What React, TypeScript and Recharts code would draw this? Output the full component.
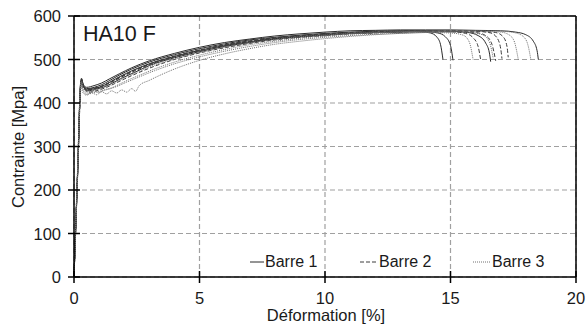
import React from 'react';
import { LineChart, Line, XAxis, YAxis, CartesianGrid, ReferenceLine } from 'recharts';

// strain [%], stress [MPa] pairs
const barre1A = [[0,0],[0.15,250],[0.26,445],[0.3,455],[0.36,440],[0.5,430],[0.8,433],[1.1,438],[1.4,447],[1.8,460],[2.3,474],[3,490],[4,507],[5,521],[6,532],[7,541],[8,548],[9,553],[10,557],[11,560],[12,562],[13,564],[13.8,564],[14.2,561],[14.45,552],[14.6,535],[14.7,500]];
const barre1B = [[0,0],[0.15,245],[0.27,440],[0.31,452],[0.38,437],[0.55,428],[0.9,432],[1.2,437],[1.5,445],[1.9,457],[2.4,470],[3,486],[4,504],[5,518],[6,530],[7,539],[8,547],[9,552],[10,556],[11,560],[12,562],[13,563],[14,564],[14.5,561],[14.8,552],[15.0,532],[15.1,498]];
const barre1C = [[0,0],[0.16,260],[0.26,442],[0.29,450],[0.34,441],[0.5,433],[0.8,436],[1.1,442],[1.4,451],[1.8,464],[2.3,478],[3,494],[4,511],[5,525],[6,536],[7,545],[8,551],[9,556],[10,560],[11,563],[12,565],[13,566],[14,566],[15,565],[15.7,562],[16.1,555],[16.4,538],[16.55,515],[16.6,495]];
const barre1D = [[0,0],[0.15,255],[0.27,447],[0.3,457],[0.36,444],[0.5,436],[0.8,440],[1.1,446],[1.4,455],[1.8,467],[2.3,481],[3,497],[4,514],[5,528],[6,539],[7,547],[8,554],[9,559],[10,563],[11,566],[12,567],[13,568],[14,568],[15,568],[16,567],[17,566],[17.6,563],[18,557],[18.3,542],[18.45,520],[18.5,500]];

const barre2A = [[0,0],[0.15,248],[0.27,443],[0.31,453],[0.37,438],[0.55,430],[0.9,434],[1.2,440],[1.5,448],[1.9,460],[2.4,473],[3,488],[4,506],[5,520],[6,532],[7,541],[8,548],[9,553],[10,557],[11,560],[12,562],[13,564],[14,565],[15,564],[15.6,560],[15.9,550],[16.1,530],[16.2,500]];
const barre2B = [[0,0],[0.14,240],[0.26,438],[0.3,450],[0.36,436],[0.6,425],[1.0,430],[1.3,436],[1.6,444],[2.0,455],[2.5,468],[3,480],[4,500],[5,515],[6,527],[7,537],[8,545],[9,551],[10,555],[11,559],[12,561],[13,563],[14,564],[15,564],[16,562],[16.4,555],[16.65,535],[16.8,497]];
const barre2C = [[0,0],[0.15,250],[0.27,444],[0.3,452],[0.35,440],[0.5,431],[0.8,434],[1.1,439],[1.4,447],[1.8,459],[2.3,473],[3,489],[4,507],[5,521],[6,533],[7,542],[8,549],[9,554],[10,558],[11,561],[12,563],[13,565],[14,566],[15,566],[16,565],[16.6,561],[16.85,550],[17.0,525],[17.05,502]];
const barre2D = [[0,0],[0.15,252],[0.28,446],[0.31,454],[0.37,441],[0.55,432],[0.9,435],[1.2,441],[1.5,449],[1.9,461],[2.4,475],[3,490],[4,508],[5,522],[6,534],[7,543],[8,550],[9,555],[10,559],[11,562],[12,564],[13,565],[14,566],[15,566],[16,565],[16.8,562],[17.1,552],[17.25,530],[17.3,505]];

const barre3A = [[0,0],[0.14,238],[0.25,432],[0.29,445],[0.35,430],[0.5,420],[0.8,424],[1.1,428],[1.4,432],[1.7,438],[2.1,448],[2.6,460],[3.2,474],[4,490],[5,506],[6,519],[7,530],[8,539],[9,546],[10,551],[11,555],[12,558],[13,560],[14,562],[15,561],[15.5,556],[15.75,540],[15.9,500]];
const barre3B = [[0,0],[0.14,235],[0.25,428],[0.28,440],[0.34,425],[0.5,418],[0.7,424],[0.9,419],[1.1,426],[1.3,421],[1.5,428],[1.7,423],[1.9,430],[2.1,425],[2.3,433],[2.45,427],[2.6,440],[3,452],[4,478],[5,498],[6,513],[7,525],[8,535],[9,542],[10,548],[11,553],[12,557],[13,560],[14,562],[15,563],[15.8,562],[16.3,556],[16.55,540],[16.7,503]];
const barre3C = [[0,0],[0.14,240],[0.26,436],[0.3,448],[0.36,432],[0.55,423],[0.8,428],[1.0,424],[1.2,430],[1.5,435],[1.8,443],[2.2,454],[2.7,466],[3.2,478],[4,494],[5,510],[6,523],[7,534],[8,542],[9,549],[10,554],[11,558],[12,561],[13,563],[14,565],[15,565],[16,565],[17,563],[17.35,556],[17.55,540],[17.7,500]];
const barre3D = [[0,0],[0.15,245],[0.26,440],[0.3,450],[0.36,436],[0.55,427],[0.9,431],[1.2,436],[1.5,443],[1.9,455],[2.4,468],[3,483],[4,501],[5,516],[6,528],[7,538],[8,546],[9,552],[10,556],[11,560],[12,562],[13,564],[14,565],[15,566],[16,566],[17,565],[17.6,561],[17.95,550],[18.1,530],[18.2,500]];

const xTicks = [0, 5, 10, 15, 20];
const yTicks = [0, 100, 200, 300, 400, 500, 600];

const FONT = '"Liberation Sans", Arial, sans-serif';
const TEXT = '#1a1a1a';
const AXIS_Y = 277;

const styles = {
  solid: { stroke: '#2b2b2b', dash: undefined as string | undefined },
  dashed: { stroke: '#3c3c3c', dash: '4 2' },
  dotted: { stroke: '#707070', dash: '1 1' },
};

const series = [
  { name: 'b1a', pts: barre1A, style: styles.solid },
  { name: 'b1b', pts: barre1B, style: styles.solid },
  { name: 'b1c', pts: barre1C, style: styles.solid },
  { name: 'b1d', pts: barre1D, style: styles.solid },
  { name: 'b2a', pts: barre2A, style: styles.dashed },
  { name: 'b2b', pts: barre2B, style: styles.dashed },
  { name: 'b2c', pts: barre2C, style: styles.dashed },
  { name: 'b2d', pts: barre2D, style: styles.dashed },
  { name: 'b3a', pts: barre3A, style: styles.dotted },
  { name: 'b3b', pts: barre3B, style: styles.dotted },
  { name: 'b3c', pts: barre3C, style: styles.dotted },
  { name: 'b3d', pts: barre3D, style: styles.dotted },
].map((s) => ({ ...s, data: s.pts.map(([x, y]) => ({ x, y })) }));

const legendItems = [
  { label: 'Barre 1', style: styles.solid, left: 250 },
  { label: 'Barre 2', style: styles.dashed, left: 360 },
  { label: 'Barre 3', style: styles.dotted, left: 473 },
];

const XTick = (props: any) => {
  const { x, payload } = props;
  return (
    <g>
      <line x1={x} x2={x} y1={AXIS_Y - 6} y2={AXIS_Y + 6} stroke="#000" strokeWidth={1.5} />
      <text x={x} y={304} textAnchor="middle" fontSize={16.5} fontFamily={FONT} fill={TEXT}>
        {payload.value}
      </text>
    </g>
  );
};

const YTick = (props: any) => {
  const { y, payload } = props;
  return (
    <g>
      <line x1={68} x2={80} y1={y} y2={y} stroke="#000" strokeWidth={1.5} />
      <text x={61} y={y + 6} textAnchor="end" fontSize={16.5} fontFamily={FONT} fill={TEXT}>
        {payload.value}
      </text>
    </g>
  );
};

export default function App() {
  return (
    <div style={{ position: 'absolute', left: 0, top: 0, width: 586, height: 334, background: '#fff' }}>
      <LineChart width={586} height={334} margin={{ top: 16, right: 10, left: 0, bottom: 0 }}>
        <CartesianGrid stroke="#a0a0a0" strokeDasharray="5 3" strokeWidth={1.2} />
        <XAxis
          type="number"
          dataKey="x"
          domain={[0, 20]}
          ticks={xTicks}
          height={57}
          tickLine={false}
          axisLine={{ stroke: '#000', strokeWidth: 1.5 }}
          tick={<XTick />}
          label={{
            content: () => (
              <text x={326} y={321} textAnchor="middle" fontSize={16.5} fontFamily={FONT} fill={TEXT}>
                Déformation [%]
              </text>
            ),
          }}
        />
        <YAxis
          type="number"
          domain={[0, 600]}
          ticks={yTicks}
          width={74}
          tickLine={false}
          axisLine={{ stroke: '#000', strokeWidth: 1.5 }}
          tick={<YTick />}
          label={{
            content: () => (
              <text
                x={24}
                y={147}
                textAnchor="middle"
                fontSize={16.5}
                fontFamily={FONT}
                fill={TEXT}
                transform="rotate(-90 24 147)"
              >
                Contrainte [Mpa]
              </text>
            ),
          }}
        />
        <ReferenceLine y={600} stroke="#000" strokeWidth={1.5} />
        <ReferenceLine x={20} stroke="#000" strokeWidth={1.5} />
        {series.map((s) => (
          <Line
            key={s.name}
            data={s.data}
            dataKey="y"
            type="monotone"
            stroke={s.style.stroke}
            strokeWidth={1}
            strokeDasharray={s.style.dash}
            dot={false}
            activeDot={false}
            legendType="none"
            isAnimationActive={false}
          />
        ))}
      </LineChart>
      <div
        style={{
          position: 'absolute',
          left: 83,
          top: 22,
          fontFamily: FONT,
          fontSize: 21.5,
          color: TEXT,
          lineHeight: '24px',
        }}
      >
        HA10 F
      </div>
      {legendItems.map((it) => (
        <div
          key={it.label}
          style={{ position: 'absolute', left: it.left, top: 252, display: 'flex', alignItems: 'center' }}
        >
          <svg width={it.style.dash ? 18 : 14} height={10}>
            <line
              x1={0}
              x2={it.style.dash ? 18 : 14}
              y1={5}
              y2={5}
              stroke={it.style.stroke}
              strokeWidth={1}
              strokeDasharray={it.style.dash}
            />
          </svg>
          <span style={{ fontFamily: FONT, fontSize: 16, color: TEXT, marginLeft: 1, lineHeight: '20px' }}>
            {it.label}
          </span>
        </div>
      ))}
    </div>
  );
}
